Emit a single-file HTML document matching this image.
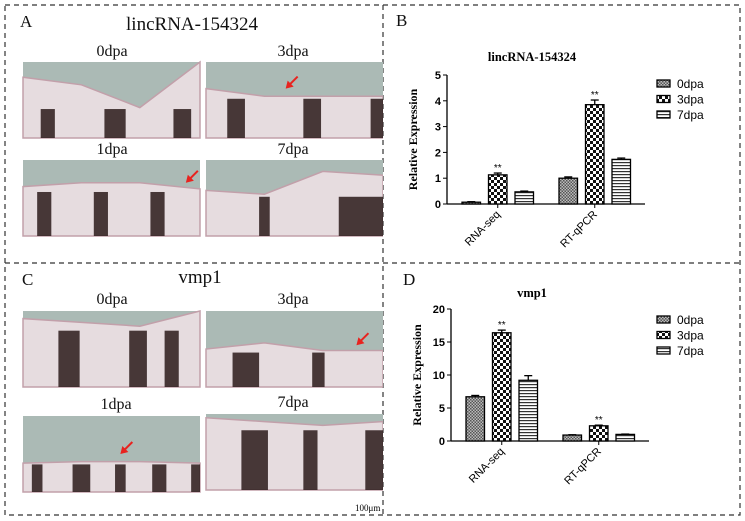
<!DOCTYPE html>
<html><head><meta charset="utf-8">
<style>
body{margin:0;background:#fff;width:745px;height:521px;overflow:hidden;position:relative;font-family:"Liberation Serif",serif}
.abs{position:absolute}
.lbl{position:absolute;font-family:"Liberation Serif",serif;font-size:16px;color:#111;transform:translateX(-50%);white-space:nowrap}
.pl{position:absolute;font-family:"Liberation Serif",serif;font-size:17px;color:#111}
</style></head><body>
<svg class="abs" style="left:0;top:0" width="745" height="521">
<g fill="none" stroke="#333" stroke-width="1.2" stroke-dasharray="5,4">
<rect x="5" y="5" width="735" height="510"/>
<line x1="383" y1="5" x2="383" y2="515"/>
<line x1="5" y1="263" x2="740" y2="263"/>
</g></svg>

<div class="pl" style="left:20px;top:12px">A</div>
<div class="lbl" style="left:192px;top:14px;font-size:19px">lincRNA-154324</div>
<div class="pl" style="left:22px;top:270px">C</div>
<div class="lbl" style="left:200px;top:267px;font-size:19px">vmp1</div>
<div class="pl" style="left:396px;top:11px">B</div>
<div class="pl" style="left:403px;top:270px">D</div>

<div class="lbl" style="left:112px;top:43px">0dpa</div>
<div class="lbl" style="left:293px;top:43px">3dpa</div>
<div class="lbl" style="left:112px;top:141px">1dpa</div>
<div class="lbl" style="left:293px;top:141px">7dpa</div>
<div class="lbl" style="left:112px;top:291px">0dpa</div>
<div class="lbl" style="left:293px;top:291px">3dpa</div>
<div class="lbl" style="left:116px;top:396px">1dpa</div>
<div class="lbl" style="left:293px;top:394px">7dpa</div>
<div class="abs" style="left:355px;top:503px;font-size:9px">100μm</div>

<svg id="photos" class="abs" style="left:0;top:0" width="383" height="521"></svg>
<svg id="charts" class="abs" style="left:383px;top:0" width="362" height="521">
<defs>
<pattern id="p0" width="3" height="3" patternUnits="userSpaceOnUse"><rect width="3" height="3" fill="#bbb"/><rect width="1.5" height="1.5" fill="#555"/><rect x="1.5" y="1.5" width="1.5" height="1.5" fill="#555"/></pattern>
<pattern id="p3" width="6" height="6" patternUnits="userSpaceOnUse"><rect width="6" height="6" fill="#fff"/><rect width="3" height="3" fill="#111"/><rect x="3" y="3" width="3" height="3" fill="#111"/></pattern>
<pattern id="p7" width="4" height="3" patternUnits="userSpaceOnUse"><rect width="4" height="3" fill="#fff"/><rect width="4" height="1.2" fill="#333"/></pattern>
</defs>
</svg>

<script>
const ph=document.getElementById('photos');
const NS='http://www.w3.org/2000/svg';
function mk(t,a,p){const e=document.createElementNS(NS,t);for(const k in a)e.setAttribute(k,a[k]);(p||ph).appendChild(e);return e;}
const photos=[
 {n:'a-0dpa',x:23,y:62,edge:[0.2,0.3,0.6,0.0],stripes:[[0.1,0.08],[0.46,0.12],[0.85,0.1]],arrow:null},
 {n:'a-3dpa',x:206,y:62,edge:[0.35,0.45,0.45,0.45],stripes:[[0.12,0.1],[0.55,0.1],[0.93,0.07]],arrow:[0.45,0.35]},
 {n:'a-1dpa',x:23,y:160,edge:[0.35,0.3,0.3,0.38],stripes:[[0.08,0.08],[0.4,0.08],[0.72,0.08]],arrow:[0.92,0.3]},
 {n:'a-7dpa',x:206,y:160,edge:[0.4,0.45,0.15,0.2],stripes:[[0.3,0.06],[0.75,0.25]],arrow:null},
 {n:'c-0dpa',x:23,y:311,edge:[0.1,0.15,0.2,0.0],stripes:[[0.2,0.12],[0.6,0.1],[0.8,0.08]],arrow:null},
 {n:'c-3dpa',x:206,y:311,edge:[0.5,0.42,0.52,0.52],stripes:[[0.15,0.15],[0.6,0.07]],arrow:[0.85,0.45]},
 {n:'c-1dpa',x:23,y:416,edge:[0.62,0.6,0.6,0.62],stripes:[[0.05,0.06],[0.28,0.1],[0.52,0.06],[0.73,0.08],[0.95,0.05]],arrow:[0.55,0.5]},
 {n:'c-7dpa',x:206,y:414,edge:[0.05,0.1,0.15,0.1],stripes:[[0.2,0.15],[0.55,0.08],[0.9,0.15]],arrow:null}
];
photos.forEach(p=>{
 const w=177,h=76;
 const g=mk('g',{});
 
 
 mk('rect',{x:p.x,y:p.y,width:w,height:h,fill:'#abbab5'},g);
 const e=p.edge;
 const pts=[[p.x,p.y+h],[p.x,p.y+e[0]*h],[p.x+w*0.33,p.y+e[1]*h],[p.x+w*0.66,p.y+e[2]*h],[p.x+w,p.y+e[3]*h],[p.x+w,p.y+h]];
 mk('polygon',{points:pts.map(q=>q.join(',')).join(' '),fill:'#e6dcdf',stroke:'#c2a0aa','stroke-width':1.5},g);
 p.stripes.forEach(s=>{
  const sx=p.x+s[0]*w, sw=s[1]*w;
  const top=p.y+Math.max(...e)*h*0.9+6;
  mk('rect',{x:sx,y:Math.min(top,p.y+h-20),width:sw,height:p.y+h-Math.min(top,p.y+h-20),fill:'#2a1a1a',opacity:0.85},g);
 });
 if(p.arrow){const ax=p.x+p.arrow[0]*w, ay=p.y+p.arrow[1]*h;
  mk('line',{x1:ax+12,y1:ay-12,x2:ax+2,y2:ay-2,stroke:'#e8231f','stroke-width':2},g);
  mk('polygon',{points:`${ax},${ay} ${ax+8},${ay-2} ${ax+2},${ay-8}`,fill:'#e8231f'},g);}
});

const categories=['RNA-seq','RT-qPCR'];
const series=['0dpa','3dpa','7dpa'];
const bVals=[[0.07,1.13,0.47],[1.0,3.85,1.73]];
const bErr=[[0.02,0.07,0.03],[0.05,0.18,0.05]];
const bTicks=[0,1,2,3,4,5];
const dVals=[[6.7,16.4,9.2],[0.9,2.3,1.0]];
const dErr=[[0.2,0.4,0.7],[0.05,0.1,0.05]];
const dTicks=[0,5,10,15,20];
const bSig=[[false,true,false],[false,true,false]];
const dSig=[[false,true,false],[false,true,false]];
const fills=['url(#p0)','url(#p3)','url(#p7)'];
const C=document.getElementById('charts');
function ce(t,a,p){const e=document.createElementNS(NS,t);for(const k in a)e.setAttribute(k,a[k]);(p||C).appendChild(e);return e;}
function chart(o){
 const g=ce('g',{});
 
 
 const x0=o.ax, x1=o.ax+198, yTop=o.y0, yBot=o.y1, max=o.ticks[o.ticks.length-1];
 const Y=v=>yBot-(v/max)*(yBot-yTop);
 const t=ce('text',{x:o.tx,y:o.ty,'text-anchor':'middle','font-family':'Liberation Serif, serif','font-weight':'bold','font-size':12.5},g);t.textContent=o.title;
 
 ce('line',{x1:x0,y1:yTop,x2:x0,y2:yBot,stroke:'#000','stroke-width':1.3},g);
 ce('line',{x1:x0,y1:yBot,x2:x1,y2:yBot,stroke:'#000','stroke-width':1.3},g);
 o.ticks.forEach(v=>{ce('line',{x1:x0-4,y1:Y(v),x2:x0,y2:Y(v),stroke:'#000'},g);
  const l=ce('text',{x:x0-6,y:Y(v)+4,'text-anchor':'end','font-family':'Liberation Sans, sans-serif','font-weight':'bold','font-size':11},g);l.textContent=v;
  });
 const yl=ce('text',{x:0,y:0,transform:`translate(${x0-30},${(yTop+yBot)/2}) rotate(-90)`,'text-anchor':'middle','font-family':'Liberation Serif, serif','font-weight':'bold','font-size':12},g);
 yl.textContent='Relative Expression';
 const bw=18.5, step=26.5, gx=[x0+15,x0+112];
 categories.forEach((c,ci)=>{
  series.forEach((s,si)=>{
   const v=o.vals[ci][si], bx=gx[ci]+si*step;
   const r=ce('rect',{x:bx,y:Y(v),width:bw,height:yBot-Y(v),fill:fills[si],stroke:'#000','stroke-width':1.3},g);
   
   const ey=Y(v+o.err[ci][si]), cx=bx+bw/2;
   ce('line',{x1:cx,y1:Y(v),x2:cx,y2:ey,stroke:'#000','stroke-width':1.3},g);
   ce('line',{x1:cx-4,y1:ey,x2:cx+4,y2:ey,stroke:'#000','stroke-width':1.3},g);
   if(o.sig[ci][si]){const st=ce('text',{x:cx,y:ey-2,'text-anchor':'middle','font-family':'Liberation Sans, sans-serif','font-size':10},g);st.textContent='**';
    }
  });
  const cx=gx[ci]+step+bw/2;
  ce('line',{x1:cx,y1:yBot,x2:cx,y2:yBot+4,stroke:'#000'},g);
  const cl=ce('text',{x:0,y:0,transform:`translate(${cx+3},${yBot+11}) rotate(-45)`,'text-anchor':'end','font-family':'Liberation Sans, sans-serif','font-size':11},g);
  cl.textContent=c;
 });
 series.forEach((s,si)=>{
  const ly=o.ly+si*15.5;
  const r=ce('rect',{x:o.lx,y:ly,width:13,height:7,fill:fills[si],stroke:'#000','stroke-width':1.3},g);
  
  const lt=ce('text',{x:o.lx+20,y:ly+8,'font-family':'Liberation Sans, sans-serif','font-size':12},g);lt.textContent=s;
  
 });
}
chart({name:'chart-b',title:'lincRNA-154324',tx:149,ty:61,ax:64,y0:75,y1:204,ticks:bTicks,vals:bVals,err:bErr,sig:bSig,lx:274,ly:80});
chart({name:'chart-d',title:'vmp1',tx:149,ty:297,ax:68,y0:309,y1:441,ticks:dTicks,vals:dVals,err:dErr,sig:dSig,lx:274,ly:316});
</script>
</body></html>
